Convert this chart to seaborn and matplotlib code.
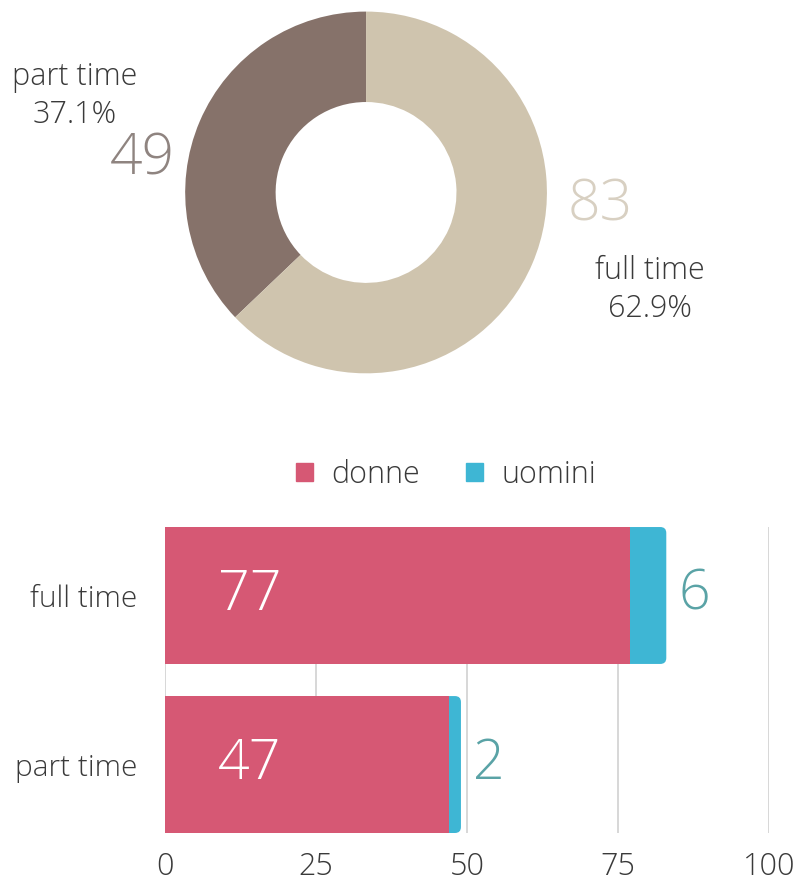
import matplotlib
matplotlib.use("Agg")
import matplotlib.pyplot as plt
import seaborn as sns
import pandas as pd
from matplotlib.patches import Patch, FancyBboxPatch

# ---- data ----
donut_labels = ["part time", "full time"]
donut_values = [49, 83]
donut_colors = ["#86726a", "#cfc4ae"]

bar_categories = ["full time", "part time"]
donne = [77, 47]
uomini = [6, 2]
x_ticks = [0, 25, 50, 75, 100]

pink = "#d65874"
blue = "#3eb6d4"

sns.set_theme(style="white")
plt.rcParams["font.family"] = ["Open Sans", "DejaVu Sans"]
plt.rcParams["font.weight"] = "light"

fig = plt.figure(figsize=(8.01, 8.91), dpi=100)

# ---- donut ----
axd = fig.add_axes([0.231, 0.581, 0.452, 0.406])
total = sum(donut_values)
axd.pie(donut_values, colors=donut_colors, startangle=90, counterclock=True,
        radius=1.0, wedgeprops=dict(width=0.5, linewidth=0))
axd.set_xlim(-1, 1)
axd.set_ylim(-1, 1)
axd.set_aspect("equal")
axd.axis("off")

pcts = [v / total * 100 for v in donut_values]
txt = "#3a3a3a"
fig.text(75 / 801, 1 - 96 / 891, f"{donut_labels[0]}\n{pcts[0]:.1f}%", ha="center", va="center",
         fontsize=22, color=txt, linespacing=1.25, fontweight="light")
fig.text(142 / 801, 1 - 160 / 891, f"{donut_values[0]}", ha="center", va="center",
         fontsize=41, color="#8f8480", fontweight="light")
fig.text(600 / 801, 1 - 206 / 891, f"{donut_values[1]}", ha="center", va="center",
         fontsize=41, color="#d8d0c2", fontweight="light")
fig.text(650 / 801, 1 - 290 / 891, f"{donut_labels[1]}\n{pcts[1]:.1f}%", ha="center", va="center",
         fontsize=22, color=txt, linespacing=1.25, fontweight="light")

# ---- stacked bars ----
axb = fig.add_axes([0.206, 0.0651, 0.754, 0.3434])
df = pd.DataFrame({"cat": bar_categories, "donne": donne, "uomini": uomini})
df["totale"] = df["donne"] + df["uomini"]
for xv in x_ticks:
    axb.axvline(xv, color="#d4d4d4", lw=1.3, zorder=0)
sns.barplot(data=df, y="cat", x="totale", color=blue, orient="h", width=0.81,
            saturation=1, ax=axb, zorder=2, linewidth=0)
axb.set_xlim(0, 100)
axb.set_ylim(1.405, -0.405)
# round the right end of the total bars
px_x = 604 / 100.0   # pixels per x unit
px_y = 169 / 1.0     # pixels per y unit
rad_px = 6
for p in list(axb.patches):
    x0, y0, w, h = p.get_x(), p.get_y(), p.get_width(), p.get_height()
    p.set_visible(False)
    fb = FancyBboxPatch((x0, y0), w, h,
                        boxstyle=f"round,pad=0,rounding_size={rad_px / px_x}",
                        mutation_aspect=px_x / px_y, facecolor=blue, edgecolor="none", zorder=2)
    axb.add_patch(fb)
sns.barplot(data=df, y="cat", x="donne", color=pink, orient="h", width=0.81,
            saturation=1, ax=axb, zorder=3, linewidth=0)
axb.set_xlim(0, 100)
axb.set_ylim(1.405, -0.405)
axb.set_xticks(x_ticks)
axb.set_xlabel("")
axb.set_ylabel("")
for s in axb.spines.values():
    s.set_visible(False)
axb.tick_params(axis="x", length=0, pad=13, labelsize=22, labelcolor=txt)
axb.tick_params(axis="y", length=0, pad=20, labelsize=21.5, labelcolor=txt)

for i, (d, u) in enumerate(zip(donne, uomini)):
    axb.text(14, i, f"{d}", ha="center", va="center", fontsize=40, color="white", fontweight="light")
    axb.text(d + u + 2, i, f"{u}", ha="left", va="center", fontsize=40, color="#5aa3a6", fontweight="light")

handles = [Patch(color=pink, label="donne"), Patch(color=blue, label="uomini")]
fig.legend(handles=handles, loc="center", bbox_to_anchor=(446 / 801, 1 - 475 / 891), ncol=2,
           frameon=False, fontsize=22, handlelength=0.55, handleheight=0.55, columnspacing=1.5,
           handletextpad=0.6, labelcolor=txt)

fig.savefig("out.png", dpi=100)
